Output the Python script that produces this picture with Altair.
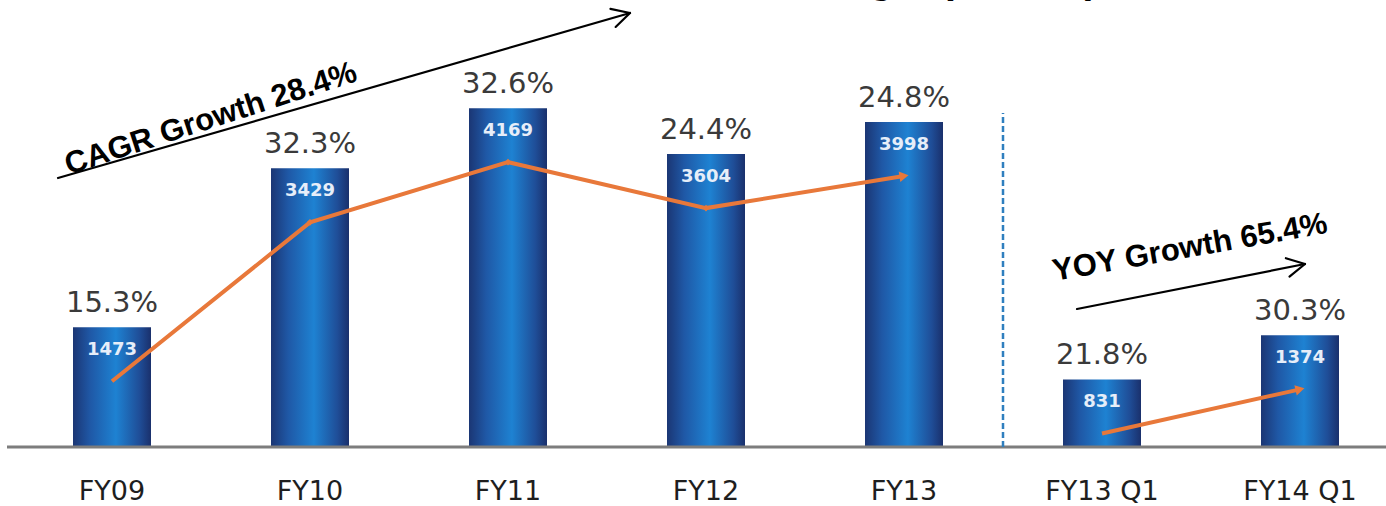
import math
import altair as alt
import pandas as pd

# ---- data ----
categories = ["FY09", "FY10", "FY11", "FY12", "FY13", "FY13 Q1", "FY14 Q1"]
values = [1473, 3429, 4169, 3604, 3998, 831, 1374]
pct_labels = ["15.3%", "32.3%", "32.6%", "24.4%", "24.8%", "21.8%", "30.3%"]
segments = ["Annual", "Annual", "Annual", "Annual", "Annual", "Quarter", "Quarter"]
title_text = "EBITDA & EBITDA Margin (Rs. Mn)"
cagr_text = "CAGR Growth 28.4%"
yoy_text = "YOY Growth 65.4%"

df = pd.DataFrame({"cat": categories, "value": values, "pct": pct_labels,
                   "seg": segments, "lbl": [str(v) for v in values]})

ORANGE = "#E8783A"
W, H = 1373, 447
LEFT = 13

xs = alt.Scale(domain=categories, range=[0, 1386], paddingInner=0, paddingOuter=0)
ys = alt.Scale(domain=[0, 5500], nice=False, zero=True)

x = alt.X("cat:N", sort=categories, scale=xs,
          axis=alt.Axis(title=None, domain=False, ticks=False, labelAngle=0,
                        labelFontSize=27, labelFont="DejaVu Sans",
                        labelColor="#1e1e1e", labelPadding=44,
                        labelBaseline="middle", grid=False))
y = alt.Y("value:Q", scale=ys, axis=None)

base = alt.Chart(df)

grad = alt.Gradient(
    gradient="linear", x1=0, x2=1, y1=0, y2=0,
    stops=[alt.GradientStop(offset=0, color="#1b3674"),
           alt.GradientStop(offset=0.22, color="#1f58a6"),
           alt.GradientStop(offset=0.55, color="#1e82d2"),
           alt.GradientStop(offset=0.85, color="#1f4e98"),
           alt.GradientStop(offset=1, color="#1a306c")])

bars = base.mark_bar(size=78, color=grad).encode(x=x, y=y)

pct_text = base.mark_text(dy=-15, baseline="alphabetic", fontSize=29,
                          font="DejaVu Sans", color="#3a3a3a").encode(
    x=x, y=y, text="pct:N")

val_text = base.mark_text(dy=28, baseline="alphabetic", fontSize=18,
                          font="DejaVu Sans", fontWeight="bold",
                          color="#e6eef9").encode(x=x, y=y, text="lbl:N")

line = base.mark_line(color=ORANGE, strokeWidth=4, yOffset=54).encode(
    x=x, y=y, detail="seg:N")

mid_pts = base.transform_filter(
    alt.FieldOneOfPredicate(field="cat", oneOf=["FY10", "FY11", "FY12"])
).mark_point(shape="diamond", filled=True, size=45, opacity=1,
             color=ORANGE, yOffset=54).encode(x=x, y=y)

end1 = base.transform_filter(alt.FieldEqualPredicate(field="cat", equal="FY13")
).mark_point(shape="triangle-right", filled=True, size=110, opacity=1,
             color=ORANGE, yOffset=54, angle=351).encode(x=x, y=y)
end2 = base.transform_filter(alt.FieldEqualPredicate(field="cat", equal="FY14 Q1")
).mark_point(shape="triangle-right", filled=True, size=110, opacity=1,
             color=ORANGE, yOffset=54, angle=347).encode(x=x, y=y)

# dashed separator at start of the quarterly band
sep = alt.Chart(pd.DataFrame({"cat": ["FY13 Q1"], "v": [0]})).mark_rule(
    strokeDash=[6, 3], strokeWidth=2.5, color="#2f7fbf").encode(
    x=alt.X("cat:N", bandPosition=0, scale=xs, sort=categories),
    y=alt.Y("v:Q", scale=ys, axis=None), y2=alt.value(113))

# baseline
baseline = alt.Chart(pd.DataFrame({"v": [0]})).mark_rule(
    color="#7d7d7d", strokeWidth=3).encode(
    x=alt.value(-6), x2=alt.value(1380), y=alt.Y("v:Q", scale=ys, axis=None))


# annotation arrows (pixel coordinates)
def arrow(x0, y0, x1, y1, head=20, spread=28):
    ang = math.atan2(y1 - y0, x1 - x0)
    segs = [(x0, y0, x1, y1)]
    for s in (spread, -spread):
        a = ang + math.pi + math.radians(s)
        segs.append((x1, y1, x1 + head * math.cos(a), y1 + head * math.sin(a)))
    return segs

segs = arrow(58 - LEFT, 178, 630 - LEFT, 13) + arrow(1077 - LEFT, 309, 1305 - LEFT, 264)
arr_df = pd.DataFrame(segs, columns=["x", "y", "x2", "y2"])
arrows = alt.Chart(arr_df).mark_rule(color="#000000", strokeWidth=2.2,
                                     strokeCap="round").encode(
    x=alt.X("x:Q", scale=None), y=alt.Y("y:Q", scale=None),
    x2="x2:Q", y2="y2:Q")

cagr = alt.Chart(pd.DataFrame({"t": [cagr_text]})).mark_text(
    font="Liberation Sans", fontWeight="bold", fontSize=31, angle=342,
    align="center", baseline="middle", color="#000000").encode(
    x=alt.value(211 - LEFT), y=alt.value(119), text="t:N")

yoy = alt.Chart(pd.DataFrame({"t": [yoy_text]})).mark_text(
    font="Liberation Sans", fontWeight="bold", fontSize=31, angle=350,
    align="center", baseline="middle", color="#000000").encode(
    x=alt.value(1190 - LEFT), y=alt.value(248), text="t:N")

title = alt.Chart(pd.DataFrame({"t": [title_text]})).mark_text(
    font="Liberation Sans", fontWeight="bold", fontSize=40, align="right",
    baseline="alphabetic", color="#000000").encode(
    x=alt.value(1098 - LEFT), y=alt.value(-7), text="t:N")

chart = alt.layer(
    bars, baseline, sep, line, mid_pts, end1, end2, pct_text, val_text,
    arrows, cagr, yoy, title
).properties(
    width=W, height=H,
    autosize=alt.AutoSizeParams(type="none"),
    padding={"left": LEFT, "top": 0, "right": 0, "bottom": 59},
    background="white",
).configure_view(stroke=None)

chart.save("out.html", embed_options={"renderer": "svg", "actions": False})
